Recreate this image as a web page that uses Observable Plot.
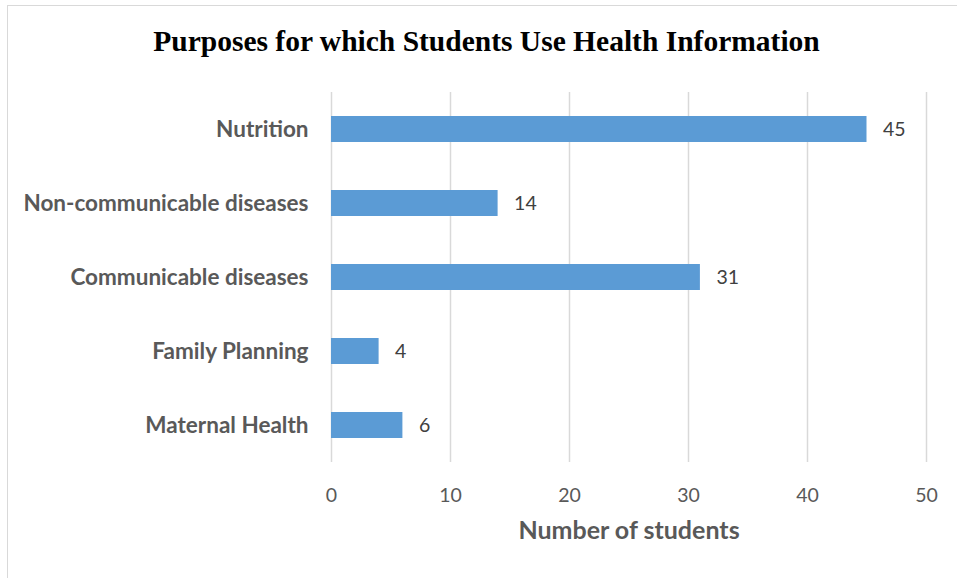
<!DOCTYPE html>
<html>
<head>
<meta charset="utf-8">
<script src="https://cdn.jsdelivr.net/npm/d3@7"></script>
<script src="https://cdn.jsdelivr.net/npm/@observablehq/plot@0.6"></script>
<style>
  html, body { margin: 0; padding: 0; background: #fff; }
  #wrap { position: relative; width: 957px; height: 578px; overflow: hidden; }
  #frame { position: absolute; left: 7px; top: 5px; width: 1000px; height: 1000px; border: 1px solid #d9d9d9; box-sizing: border-box; }
  #title { position: absolute; left: 0; width: 973px; top: 25px; text-align: center;
           font-family: "Liberation Serif", "Times New Roman", serif; font-weight: bold; font-size: 29.5px; color: #000; }
  #chart { position: absolute; left: 0; top: 0; }
</style>
</head>
<body>
<div id="wrap">
  <div id="frame"></div>
  <div id="chart"></div>
  <div id="title">Purposes for which Students Use Health Information</div>
</div>
<script>
const categories = ["Nutrition", "Non-communicable diseases", "Communicable diseases", "Family Planning", "Maternal Health"];
const values = [45, 14, 31, 4, 6];
const xTicks = [0, 10, 20, 30, 40, 50];
const xLabel = "Number of students";

const data = categories.map((c, i) => ({category: c, value: values[i]}));
const font = "Lato, 'Open Sans', sans-serif";

const chart = Plot.plot({
  width: 957,
  height: 578,
  marginTop: 92,
  marginBottom: 116,
  marginLeft: 331,
  marginRight: 31,
  style: {fontFamily: font, background: "transparent", overflow: "visible"},
  x: {domain: [0, 50], ticks: xTicks},
  y: {domain: categories, paddingInner: 0.65, paddingOuter: 0.325},
  marks: [
    Plot.gridX(xTicks, {stroke: "#d9d9d9", strokeOpacity: 1, strokeWidth: 1.5}),
    Plot.barX(data, {x: "value", y: "category", fill: "#5b9bd5"}),
    Plot.text(data, {x: "value", y: "category", text: d => String(d.value), textAnchor: "start", dx: 16,
      fill: "#404040", fontSize: 19.5}),
    Plot.axisX(xTicks, {tickSize: 0, tickPadding: 26, fontSize: 19.5, fill: "#595959", label: null, tickFormat: d => String(d)}),
    Plot.axisY({tickSize: 0, tickPadding: 23, fontSize: 22.5, fontWeight: "bold", fill: "#595959", label: null}),
    Plot.text([xLabel], {frameAnchor: "bottom", dy: 76, text: d => d, fontSize: 25, fontWeight: "bold", fill: "#595959"})
  ]
});
document.getElementById("chart").appendChild(chart);
</script>
</body>
</html>
